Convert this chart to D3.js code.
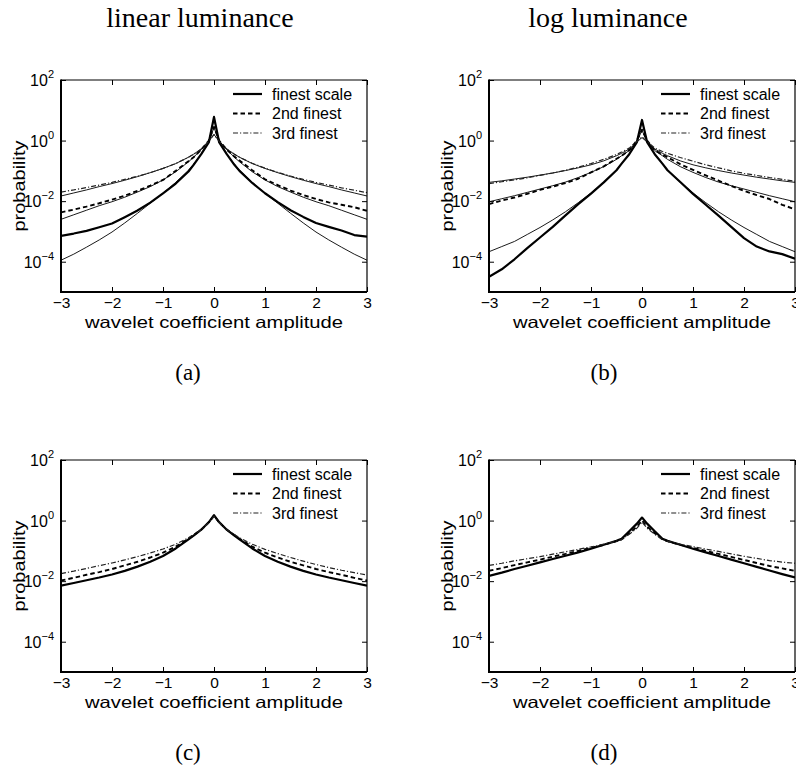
<!DOCTYPE html>
<html><head><meta charset="utf-8">
<script src="https://cdn.jsdelivr.net/npm/d3@7"></script>
<style>body{margin:0;background:#fff}</style>
</head><body>
<svg id="chart" width="796" height="768"></svg>
<script>
// ---------- data (y values are log10 of probability) ----------
const xGrid = [-3,-2.75,-2.5,-2.25,-2,-1.75,-1.5,-1.25,-1,-0.75,-0.5,-0.4,-0.25,-0.1,0,0.1,0.25,0.4,0.5,0.75,1,1.25,1.5,1.75,2,2.25,2.5,2.75,3];
const xTicks = [-3,-2,-1,0,1,2,3];
const yTickExps = [-4,-2,0,2];
const legendLabels = ["finest scale","2nd finest","3rd finest"];
const columnTitles = ["linear luminance","log luminance"];
const panelLetters = ["(a)","(b)","(c)","(d)"];

// (a) linear luminance, empirical
const aFinest = [-3.15,-3.07,-2.98,-2.86,-2.74,-2.53,-2.31,-2.05,-1.74,-1.42,-1.02,-0.8,-0.45,-0.05,0.78,-0.05,-0.45,-0.8,-1.0,-1.4,-1.74,-2.03,-2.3,-2.52,-2.72,-2.85,-2.97,-3.12,-3.17];
const aSecond = [-2.37,-2.28,-2.18,-2.07,-1.95,-1.82,-1.66,-1.49,-1.30,-1.0,-0.68,-0.55,-0.3,0.0,0.45,0.0,-0.3,-0.53,-0.66,-0.98,-1.28,-1.47,-1.65,-1.8,-1.93,-2.04,-2.12,-2.2,-2.32];
const aThird = [-1.7,-1.63,-1.55,-1.47,-1.38,-1.28,-1.18,-1.06,-0.92,-0.76,-0.55,-0.45,-0.28,-0.02,0.2,-0.02,-0.28,-0.45,-0.55,-0.75,-0.91,-1.05,-1.17,-1.28,-1.38,-1.47,-1.56,-1.64,-1.72];
// (a) fitted models (thin lines)
const aFit1 = [-3.95,-3.75,-3.52,-3.28,-3.02,-2.72,-2.40,-2.07,-1.74,-1.38,-0.98,-0.78,-0.45,-0.05,0.75,-0.05,-0.45,-0.78,-0.98,-1.38,-1.74,-2.07,-2.40,-2.72,-3.02,-3.28,-3.52,-3.75,-3.95];
const aFit2 = [-2.6,-2.45,-2.3,-2.15,-2.02,-1.87,-1.7,-1.52,-1.3,-1.03,-0.7,-0.55,-0.3,0.0,0.42,0.0,-0.3,-0.55,-0.7,-1.03,-1.3,-1.52,-1.7,-1.87,-2.02,-2.15,-2.3,-2.45,-2.6];
const aFit3 = [-1.83,-1.73,-1.63,-1.52,-1.42,-1.31,-1.19,-1.06,-0.92,-0.76,-0.55,-0.45,-0.28,-0.02,0.2,-0.02,-0.28,-0.45,-0.55,-0.76,-0.92,-1.06,-1.19,-1.31,-1.42,-1.52,-1.63,-1.73,-1.83];

// (b) log luminance, empirical
const bFinest = [-4.5,-4.25,-3.92,-3.55,-3.2,-2.85,-2.47,-2.1,-1.75,-1.38,-0.98,-0.76,-0.45,-0.05,0.68,-0.05,-0.45,-0.76,-0.98,-1.37,-1.76,-2.12,-2.48,-2.85,-3.22,-3.5,-3.66,-3.75,-3.9];
const bSecond = [-2.1,-1.98,-1.88,-1.76,-1.63,-1.52,-1.4,-1.26,-1.05,-0.85,-0.6,-0.5,-0.32,0.0,0.36,0.0,-0.32,-0.47,-0.55,-0.78,-0.97,-1.15,-1.32,-1.5,-1.66,-1.8,-1.93,-2.12,-2.27];
const bThird = [-1.42,-1.36,-1.3,-1.23,-1.15,-1.07,-0.98,-0.88,-0.76,-0.62,-0.46,-0.38,-0.25,-0.03,0.12,-0.03,-0.25,-0.36,-0.42,-0.56,-0.68,-0.8,-0.9,-1.0,-1.08,-1.15,-1.22,-1.28,-1.34];
// (b) fitted models
const bFit1 = [-3.67,-3.5,-3.33,-3.1,-2.87,-2.62,-2.35,-2.05,-1.73,-1.38,-0.98,-0.76,-0.45,-0.05,0.65,-0.05,-0.45,-0.76,-0.98,-1.38,-1.73,-2.05,-2.35,-2.62,-2.87,-3.1,-3.33,-3.5,-3.67];
const bFit2 = [-2.02,-1.92,-1.82,-1.71,-1.6,-1.49,-1.37,-1.22,-1.05,-0.86,-0.62,-0.5,-0.33,-0.02,0.33,-0.02,-0.33,-0.5,-0.62,-0.86,-1.05,-1.22,-1.37,-1.49,-1.6,-1.71,-1.82,-1.92,-2.02];
const bFit3 = [-1.38,-1.33,-1.27,-1.21,-1.14,-1.07,-0.99,-0.9,-0.8,-0.67,-0.5,-0.42,-0.28,-0.05,0.1,-0.05,-0.28,-0.42,-0.5,-0.67,-0.8,-0.9,-0.99,-1.07,-1.14,-1.21,-1.27,-1.33,-1.38];

// (c) linear luminance, model
const cFinest = [-2.15,-2.06,-1.97,-1.88,-1.78,-1.66,-1.52,-1.36,-1.17,-0.92,-0.62,-0.5,-0.3,-0.05,0.18,-0.05,-0.3,-0.5,-0.62,-0.92,-1.17,-1.36,-1.52,-1.66,-1.78,-1.88,-1.97,-2.06,-2.15];
const cSecond = [-1.98,-1.89,-1.79,-1.7,-1.6,-1.48,-1.36,-1.22,-1.06,-0.86,-0.6,-0.48,-0.3,-0.06,0.16,-0.06,-0.3,-0.48,-0.6,-0.86,-1.06,-1.22,-1.36,-1.48,-1.6,-1.7,-1.79,-1.89,-1.98];
const cThird = [-1.75,-1.67,-1.58,-1.49,-1.4,-1.3,-1.19,-1.07,-0.94,-0.78,-0.57,-0.46,-0.3,-0.07,0.14,-0.07,-0.3,-0.46,-0.57,-0.78,-0.95,-1.09,-1.22,-1.34,-1.45,-1.55,-1.64,-1.72,-1.8];

// (d) log luminance, model
const dFinest = [-1.83,-1.72,-1.6,-1.49,-1.38,-1.27,-1.16,-1.05,-0.93,-0.8,-0.67,-0.6,-0.35,-0.1,0.1,-0.1,-0.35,-0.6,-0.67,-0.8,-0.93,-1.05,-1.17,-1.29,-1.41,-1.53,-1.65,-1.77,-1.88];
const dSecond = [-1.66,-1.57,-1.47,-1.38,-1.29,-1.19,-1.1,-1.0,-0.9,-0.8,-0.68,-0.62,-0.42,-0.2,0.0,-0.2,-0.42,-0.62,-0.68,-0.8,-0.9,-1.0,-1.1,-1.2,-1.3,-1.4,-1.5,-1.58,-1.66];
const dThird = [-1.48,-1.41,-1.33,-1.26,-1.19,-1.11,-1.03,-0.95,-0.87,-0.78,-0.68,-0.63,-0.45,-0.25,-0.05,-0.25,-0.45,-0.63,-0.68,-0.78,-0.86,-0.94,-1.02,-1.1,-1.18,-1.25,-1.32,-1.37,-1.41];

// ---------- drawing ----------
const svg = d3.select("#chart");
const W = 306, H = 212;
const sansFont = "'Liberation Sans', Arial, Helvetica, sans-serif";
const serifFont = "'Liberation Serif', 'Times New Roman', serif";

const panels = [
  {letter: panelLetters[0], left: 61,  top: 80,  emp: [aFinest,aSecond,aThird], fits: [aFit1,aFit2,aFit3], lx: 188},
  {letter: panelLetters[1], left: 489, top: 80,  emp: [bFinest,bSecond,bThird], fits: [bFit1,bFit2,bFit3], lx: 604},
  {letter: panelLetters[2], left: 61,  top: 460, emp: [cFinest,cSecond,cThird], fits: [], lx: 188},
  {letter: panelLetters[3], left: 489, top: 460, emp: [dFinest,dSecond,dThird], fits: [], lx: 604}
];

const styles = [
  {w: 2.2, dash: null, color: "#000"},
  {w: 1.9, dash: "4.5,3", color: "#000"},
  {w: 1.2, dash: "5,2,1.2,2", color: "#222"}
];

const x = d3.scaleLinear().domain([-3, 3]).range([0, W]);
const y = d3.scaleLog().domain([1e-5, 1e2]).range([H, 0]);
const line = d3.line().x((d, i) => x(xGrid[i])).y(d => y(Math.pow(10, d)));

const supMap = {"2": "2", "0": "0", "-2": "\u22122", "-4": "\u22124"};

panels.forEach((p, pi) => {
  const g = svg.append("g").attr("transform", `translate(${p.left},${p.top})`);
  const clipId = "clip" + pi;
  g.append("clipPath").attr("id", clipId).append("rect").attr("width", W).attr("height", H);

  const plot = g.append("g").attr("clip-path", `url(#${clipId})`);
  p.fits.forEach(arr => {
    plot.append("path").datum(arr).attr("d", line)
      .attr("fill", "none").attr("stroke", "#000").attr("stroke-width", 0.9);
  });
  p.emp.forEach((arr, k) => {
    const s = styles[k];
    plot.append("path").datum(arr).attr("d", line)
      .attr("fill", "none").attr("stroke", s.color).attr("stroke-width", s.w)
      .attr("stroke-dasharray", s.dash).attr("stroke-linejoin", "round");
  });

  // frame
  g.append("line").attr("x1", 0).attr("x2", W).attr("y1", 0).attr("y2", 0).attr("stroke", "#000").attr("stroke-width", 1.2);
  g.append("line").attr("x1", W).attr("x2", W).attr("y1", 0).attr("y2", H).attr("stroke", "#000").attr("stroke-width", 1.2);
  g.append("line").attr("x1", 0).attr("x2", 0).attr("y1", -0.5).attr("y2", H + 1).attr("stroke", "#000").attr("stroke-width", 2);
  g.append("line").attr("x1", -1).attr("x2", W).attr("y1", H).attr("y2", H).attr("stroke", "#000").attr("stroke-width", 2);

  // x axis (bottom) with inward ticks
  const xAxis = d3.axisBottom(x).tickValues(xTicks).tickSize(-5).tickPadding(5)
    .tickFormat(d => d < 0 ? "\u2212" + Math.abs(d) : String(d));
  const xa = g.append("g").attr("transform", `translate(0,${H})`).call(xAxis);
  xa.select(".domain").remove();
  xa.selectAll("line").attr("stroke", "#000").attr("stroke-width", 1);
  xa.selectAll("text").attr("font-family", sansFont).attr("font-size", 15.5).attr("fill", "#000");
  const xt = g.append("g").call(d3.axisTop(x).tickValues(xTicks).tickSize(-5).tickFormat(""));
  xt.select(".domain").remove();
  xt.selectAll("line").attr("stroke", "#000");

  // y ticks left & right
  const yVals = yTickExps.map(e => Math.pow(10, e));
  const yl = g.append("g").call(d3.axisLeft(y).tickValues(yVals).tickSize(-5).tickFormat(""));
  yl.select(".domain").remove();
  yl.selectAll("line").attr("stroke", "#000");
  const yr = g.append("g").attr("transform", `translate(${W},0)`).call(d3.axisRight(y).tickValues(yVals).tickSize(-5).tickFormat(""));
  yr.select(".domain").remove();
  yr.selectAll("line").attr("stroke", "#000");

  // y tick labels "10^k"
  yTickExps.forEach(e => {
    const t = g.append("text").attr("x", -7).attr("y", y(Math.pow(10, e)) + 6)
      .attr("text-anchor", "end").attr("font-family", sansFont).attr("font-size", 16).attr("fill", "#000");
    t.append("tspan").text("10");
    t.append("tspan").attr("dy", -8).attr("font-size", 11).text(supMap[String(e)]);
  });

  // axis labels
  g.append("text").attr("x", W / 2).attr("y", H + 36)
    .attr("text-anchor", "middle").attr("font-family", sansFont).attr("font-size", 16.5)
    .attr("textLength", 258).attr("lengthAdjust", "spacingAndGlyphs").attr("fill", "#000")
    .text("wavelet coefficient amplitude");
  g.append("text").attr("transform", `translate(${-36},${H / 2}) rotate(-90)`)
    .attr("text-anchor", "middle").attr("font-family", sansFont).attr("font-size", 17)
    .attr("textLength", 91).attr("lengthAdjust", "spacingAndGlyphs").attr("fill", "#000")
    .text("probability");

  // legend
  const lg = g.append("g").attr("transform", `translate(172,14)`);
  legendLabels.forEach((lab, k) => {
    const s = styles[k];
    const yy = k * 19.5;
    lg.append("line").attr("x1", 0).attr("x2", 29).attr("y1", yy).attr("y2", yy)
      .attr("stroke", s.color).attr("stroke-width", s.w).attr("stroke-dasharray", s.dash);
    lg.append("text").attr("x", 39).attr("y", yy + 5.5)
      .attr("font-family", sansFont).attr("font-size", 16).attr("fill", "#000").text(lab);
  });

  // panel letter
  svg.append("text").attr("x", p.lx).attr("y", p.top + 300)
    .attr("text-anchor", "middle").attr("font-family", serifFont).attr("font-size", 23)
    .attr("fill", "#000").text(p.letter);
});

// column titles
svg.append("text").attr("x", 200).attr("y", 27).attr("text-anchor", "middle")
  .attr("font-family", serifFont).attr("font-size", 28).attr("fill", "#000").text(columnTitles[0]);
svg.append("text").attr("x", 608).attr("y", 27).attr("text-anchor", "middle")
  .attr("font-family", serifFont).attr("font-size", 28).attr("fill", "#000").text(columnTitles[1]);
</script>
</body></html>
